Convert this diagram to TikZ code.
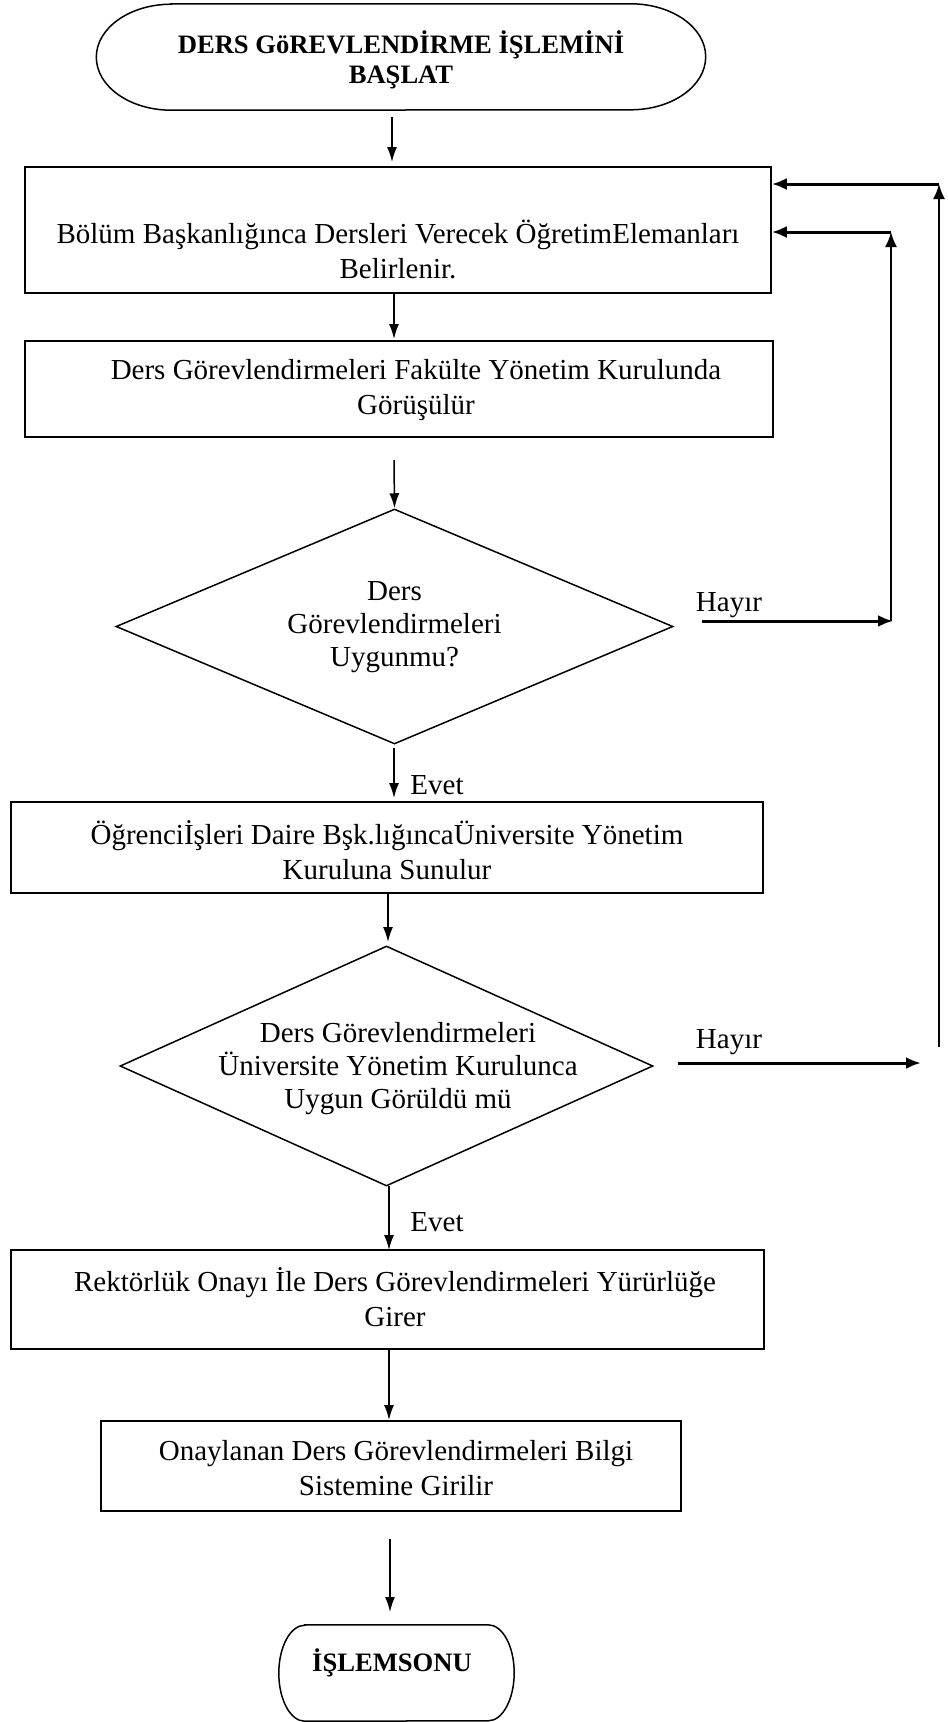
\documentclass[tikz,border=0pt]{standalone}
\usepackage{fontspec}
\setmainfont{Liberation Serif}
\usetikzlibrary{arrows.meta,calc,shapes.geometric}
\begin{document}
\begin{tikzpicture}[x=1pt,y=1pt,
  box/.style={draw, line width=1.5pt, rectangle, inner sep=0pt},
  txt/.style={align=center, font=\fontsize{29}{35}\selectfont, inner sep=0pt},
  dtxt/.style={align=center, font=\fontsize{29}{33}\selectfont, inner sep=0pt},
  btxt/.style={align=center, font=\fontsize{26.6}{30}\selectfont\bfseries, inner sep=0pt},
  lbl/.style={font=\fontsize{29}{35}\selectfont, inner sep=0pt},
  dia/.style={draw, diamond, line width=1.5pt, inner sep=0pt},
  arr/.style={line width=1.5pt, -{Latex[length=15pt,width=10pt]}},
  tarr/.style={line width=3pt, -{Latex[length=15pt,width=12pt]}},
  larr/.style={line width=2pt, -{Latex[length=15pt,width=12pt]}}]
\useasboundingbox (0,0) rectangle (948,-1722);

% start terminal
\node[minimum width=609pt, minimum height=106pt, inner sep=0pt] (s) at (401,-57) {};
\draw[line width=1.5pt] ($(s.north west)+(75,0)$) -- ($(s.north east)+(-75,0)$)
  arc[start angle=90, end angle=-90, x radius=75pt, y radius=53pt]
  -- ($(s.south west)+(75,0)$)
  arc[start angle=270, end angle=90, x radius=75pt, y radius=53pt] -- cycle;
\node[btxt] (st) at (401,-60) {DERS GöREVLENDİRME İŞLEMİNİ\\BAŞLAT};

% boxes
\node[box, minimum width=746pt, minimum height=126pt] (b1) at (398,-230) {};
\node[txt] (b1t) at (398,-249) {Bölüm Başkanlığınca Dersleri Verecek ÖğretimElemanları\\Belirlenir.};
\node[box, minimum width=748pt, minimum height=96pt] (b2) at (399,-389) {};
\node[txt] (b2t) at (416,-390) {Ders Görevlendirmeleri Fakülte Yönetim Kurulunda\\Görüşülür};

\node[dia, minimum width=557pt, minimum height=235pt] (d1) at (394.5,-626.5) {};
\node[dtxt] (d1t) at (394.5,-627) {Ders\\Görevlendirmeleri\\Uygunmu?};

\node[box, minimum width=752pt, minimum height=91pt] (b3) at (387,-847.5) {};
\node[txt] (b3t) at (387,-850) {Öğrenciİşleri Daire Bşk.lığıncaÜniversite Yönetim\\Kuruluna Sunulur};

\node[dia, minimum width=533pt, minimum height=240pt] (d2) at (386.5,-1066) {};
\node[dtxt] (d2t) at (398,-1069) {Ders Görevlendirmeleri\\Üniversite Yönetim Kurulunca\\Uygun Görüldü mü};

\node[box, minimum width=753pt, minimum height=99pt] (b4) at (387.5,-1299.5) {};
\node[txt] (b4t) at (395,-1297) {Rektörlük Onayı İle Ders Görevlendirmeleri Yürürlüğe\\Girer};

\node[box, minimum width=580pt, minimum height=90pt] (b5) at (391,-1466) {};
\node[txt] (b5t) at (396,-1468) {Onaylanan Ders Görevlendirmeleri Bilgi\\Sistemine Girilir};

% end terminal
\node[minimum width=235pt, minimum height=96pt, inner sep=0pt] (e) at (396.5,-1673) {};
\draw[line width=1.5pt] ($(e.north west)+(26,0)$) -- ($(e.north east)+(-26,0)$)
  arc[start angle=90, end angle=-90, x radius=26pt, y radius=48pt]
  -- ($(e.south west)+(26,0)$)
  arc[start angle=270, end angle=90, x radius=26pt, y radius=48pt] -- cycle;
\node[btxt] (et) at (392,-1663) {İŞLEMSONU};

% coordinates
\coordinate (a1s) at (392,-117); \coordinate (a1e) at (392,-162);
\coordinate (a3s) at (394,-460);
\coordinate (a7e) at (389,-1420);
\coordinate (a8s) at (390,-1539); \coordinate (a8e) at (390,-1612);
\coordinate (h1s) at (702,-621); \coordinate (h1e) at (893,-621);
\coordinate (c1b) at (891,-621); \coordinate (c1t) at (891,-232);
\coordinate (c2b) at (939,-1047); \coordinate (c2t) at (939,-184);
\coordinate (h2s) at (678,-1063); \coordinate (h2e) at (921,-1063);

% connectors
\draw[arr] (a1s) -- (a1e);
\draw[arr] (394,-293) -- (394,-339);
\draw[arr] (a3s) -- (d1.north);
\draw[arr] (394,-748) -- (394,-798);
\draw[arr] (388,-893) -- (388,-942);
\draw[arr] (389,-1186) -- (389,-1250);
\draw[arr] (389,-1349) -- (a7e);
\draw[arr] (a8s) -- (a8e);

\draw[tarr] (h1s) -- (h1e);
\draw[larr] (c1b) -- (c1t);
\draw[larr, line width=3pt] (c1t) -- (c1t -| b1.east);
\draw[larr] (c2b) -- (c2t);
\draw[larr, line width=3pt] (c2t) -- (c2t -| b1.east);
\draw[tarr] (h2s) -- (h2e);

% labels
\node[lbl] (hl1) at (729,-605) {Hayır};
\node[lbl] (hl2) at (729,-1042) {Hayır};
\node[lbl] (el1) at (437,-785) {Evet};
\node[lbl] (el2) at (437,-1222) {Evet};
\end{tikzpicture}
\end{document}
